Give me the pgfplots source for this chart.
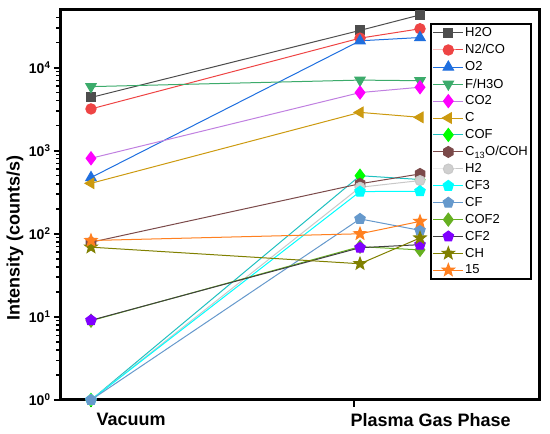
\documentclass[border=0pt]{standalone}
\usepackage{fontspec}
\setmainfont{Liberation Sans}
\usepackage{pgfplots}
\pgfplotsset{compat=1.18}
\usetikzlibrary{plotmarks}
\definecolor{cH2O}{HTML}{4D4D4D}
\definecolor{cN2}{HTML}{EE4444}
\definecolor{cO2}{HTML}{1F6FDF}
\definecolor{cF}{HTML}{3CAB6B}
\definecolor{cCO2m}{HTML}{FF00FF}
\definecolor{cCO2l}{HTML}{C080E0}
\definecolor{cC}{HTML}{CC9A10}
\definecolor{cCOFm}{HTML}{00FF00}
\definecolor{cCOFl}{HTML}{20C0C0}
\definecolor{cC13}{HTML}{7B4A4A}
\definecolor{cH2}{HTML}{C8C8C8}
\definecolor{cH2m}{HTML}{D0D0D0}
\definecolor{cCF3}{HTML}{00FFFF}
\definecolor{cCF}{HTML}{6699CC}
\definecolor{cCOF2}{HTML}{66B020}
\definecolor{cCF2m}{HTML}{8000FF}
\definecolor{cCF2l}{HTML}{404040}
\definecolor{cCH}{HTML}{808000}
\definecolor{c15}{HTML}{FF8020}
\pgfdeclareplotmark{hexagon*}{%
  \pgfpathmoveto{\pgfqpointpolar{90}{\pgfplotmarksize}}%
  \pgfpathlineto{\pgfqpointpolar{150}{\pgfplotmarksize}}%
  \pgfpathlineto{\pgfqpointpolar{210}{\pgfplotmarksize}}%
  \pgfpathlineto{\pgfqpointpolar{270}{\pgfplotmarksize}}%
  \pgfpathlineto{\pgfqpointpolar{330}{\pgfplotmarksize}}%
  \pgfpathlineto{\pgfqpointpolar{30}{\pgfplotmarksize}}%
  \pgfpathclose
  \pgfusepathqfillstroke}
\pgfdeclareplotmark{fstar}{%
  \pgfpathmoveto{\pgfqpointpolar{90}{\pgfplotmarksize}}%
  \pgfpathlineto{\pgfqpointpolar{126}{0.42\pgfplotmarksize}}%
  \pgfpathlineto{\pgfqpointpolar{162}{\pgfplotmarksize}}%
  \pgfpathlineto{\pgfqpointpolar{198}{0.42\pgfplotmarksize}}%
  \pgfpathlineto{\pgfqpointpolar{234}{\pgfplotmarksize}}%
  \pgfpathlineto{\pgfqpointpolar{270}{0.42\pgfplotmarksize}}%
  \pgfpathlineto{\pgfqpointpolar{306}{\pgfplotmarksize}}%
  \pgfpathlineto{\pgfqpointpolar{342}{0.42\pgfplotmarksize}}%
  \pgfpathlineto{\pgfqpointpolar{18}{\pgfplotmarksize}}%
  \pgfpathlineto{\pgfqpointpolar{54}{0.42\pgfplotmarksize}}%
  \pgfpathclose
  \pgfusepathqfillstroke}
\begin{document}
\begin{tikzpicture}
\begin{semilogyaxis}[
  scale only axis,
  width=479pt, height=390pt,
  xmin=-0.1115, xmax=1.669,
  ymin=1, ymax=49300,
  separate axis lines,
  axis line style={line width=3pt, line cap=rect, black},
  tickpos=left,
  tick align=outside,
  xtick={0,0.978},
  xticklabels={\hspace{2pt}Vacuum,\hspace{-7pt}Plasma Gas Phase},
  xticklabel style={anchor=north west, font=\fontsize{18}{20}\selectfont\bfseries, yshift=-3pt},
  ytick={1,10,100,1000,10000},
  yticklabels={\textbf{10}\textsuperscript{\textbf{0}},\textbf{10}\textsuperscript{\textbf{1}},\textbf{10}\textsuperscript{\textbf{2}},\textbf{10}\textsuperscript{\textbf{3}},\textbf{10}\textsuperscript{\textbf{4}}},
  yticklabel style={font=\fontsize{14}{16}\selectfont},
  minor ytick={2,3,4,5,6,7,8,9,20,30,40,50,60,70,80,90,200,300,400,500,600,700,800,900,2000,3000,4000,5000,6000,7000,8000,9000,20000,30000,40000},
  major tick length=7pt, minor tick length=4.5pt,
  every tick/.append style={draw=black, line width=2pt},
  every minor tick/.append style={draw=black, line width=1.5pt},
  ylabel={Intensity (counts/s)},
  ylabel style={font=\fontsize{18}{20}\selectfont\bfseries, at={(axis description cs:-0.096,0.415)}, anchor=center},
  legend cell align=left,
  legend style={at={(0.770,0.966)}, anchor=north west, draw=black, line width=2pt,
    font=\fontsize{13}{14}\selectfont, row sep=3.5pt, inner sep=2pt,
    nodes={inner sep=1.4pt}},
  legend image code/.code={\draw[mark repeat=2,mark phase=2] plot coordinates {(0pt,0pt)(15pt,0pt)(30pt,0pt)};},
  every axis plot/.append style={line width=1pt, mark size=5pt},
]
\addplot[cH2O, mark=square*, mark options={fill=cH2O, draw=cH2O}, mark size=4.5pt] coordinates {(0,4370) (1,28000) (1.223,43000)};
\addlegendentry{H2O}
\addplot[cN2, mark=*, mark options={fill=cN2, draw=cN2}, mark size=5.2pt] coordinates {(0,3180) (1,22600) (1.223,29300)};
\addlegendentry{N2/CO}
\addplot[cO2, mark=triangle*, mark options={fill=cO2, draw=cO2}, mark size=6pt] coordinates {(0,475) (1,21000) (1.223,23000)};
\addlegendentry{O2}
\addplot[cF, mark=triangle*, mark options={fill=cF, draw=cF, rotate=180}, mark size=6pt] coordinates {(0,5900) (1,7070) (1.223,6950)};
\addlegendentry{F/H3O}
\addplot[cCO2l, mark=diamond*, mark options={fill=cCO2m, draw=cCO2m}, mark size=6.5pt] coordinates {(0,810) (1,5000) (1.223,5800)};
\addlegendentry{CO2}
\addplot[cC, mark=triangle*, mark options={fill=cC, draw=cC, rotate=90}, mark size=6pt] coordinates {(0,405) (1,2890) (1.223,2520)};
\addlegendentry{C}
\addplot[cCOFl, mark=diamond*, mark options={fill=cCOFm, draw=cCOFm}, mark size=6.5pt] coordinates {(0,1) (1,500) (1.223,450)};
\addlegendentry{COF}
\addplot[cC13, mark=hexagon*, mark options={fill=cC13, draw=cC13}, mark size=5.5pt] coordinates {(0,79) (1,400) (1.223,525)};
\addlegendentry{C\textsubscript{13}O/COH}
\addplot[cH2, mark=*, mark options={fill=cH2m, draw=cH2}, mark size=5pt] coordinates {(0,1) (1,363) (1.223,437)};
\addlegendentry{H2}
\addplot[cCF3, mark=pentagon*, mark options={fill=cCF3, draw=cCF3}, mark size=5.5pt] coordinates {(0,1) (1,322) (1.223,325)};
\addlegendentry{CF3}
\addplot[cCF, mark=pentagon*, mark options={fill=cCF, draw=cCF}, mark size=5.5pt] coordinates {(0,1) (1,151) (1.223,110)};
\addlegendentry{CF}
\addplot[cCOF2, mark=diamond*, mark options={fill=cCOF2, draw=cCOF2}, mark size=6.5pt] coordinates {(0,9) (1,70) (1.223,64)};
\addlegendentry{COF2}
\addplot[cCF2l, mark=pentagon*, mark options={fill=cCF2m, draw=cCF2m}, mark size=5.5pt] coordinates {(0,9.1) (1,68) (1.223,74)};
\addlegendentry{CF2}
\addplot[cCH, mark=fstar, mark options={fill=cCH, draw=cCH}, mark size=6.5pt] coordinates {(0,69) (1,43.6) (1.223,89)};
\addlegendentry{CH}
\addplot[c15, mark=fstar, mark options={fill=c15, draw=c15}, mark size=6.5pt] coordinates {(0,83) (1,100) (1.223,141)};
\addlegendentry{15}
\end{semilogyaxis}
\pgfresetboundingbox
\path (-61pt,-34pt) rectangle (489pt,400pt);
\end{tikzpicture}
\end{document}
